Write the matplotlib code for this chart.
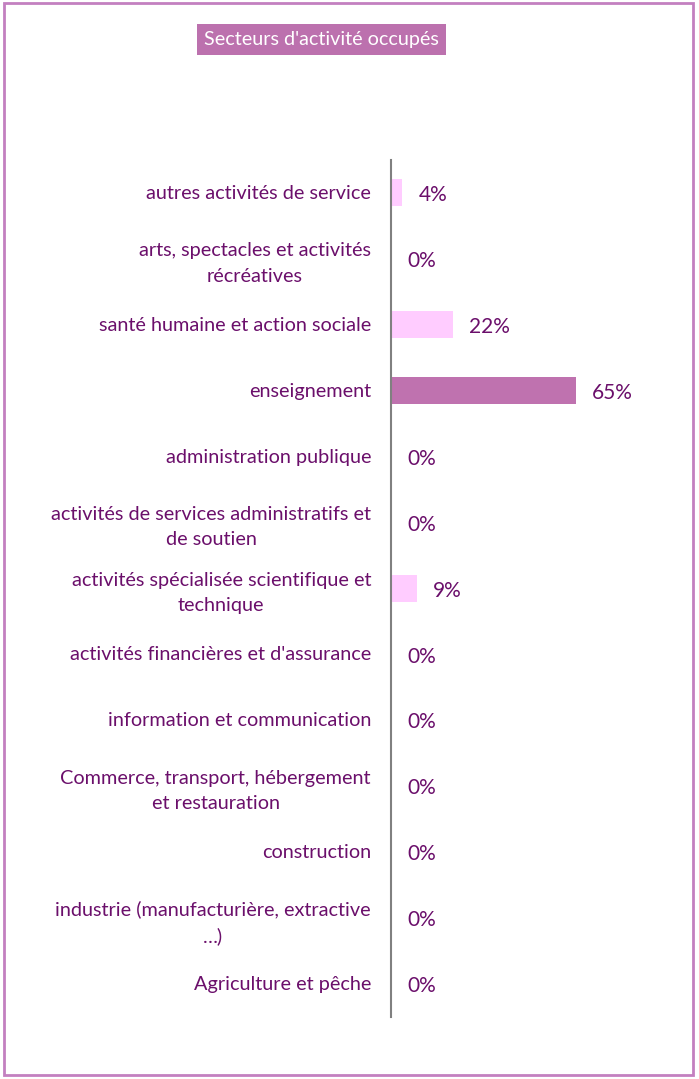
import matplotlib
matplotlib.use("Agg")
import matplotlib.pyplot as plt
from matplotlib.patches import Rectangle
import matplotlib.transforms as mtransforms

plt.rcParams['font.family'] = ['Lato', 'DejaVu Sans']

categories = [
    "autres activités de service",
    "arts, spectacles et activités\nrécréatives",
    "santé humaine et action sociale",
    "enseignement",
    "administration publique",
    "activités de services administratifs et\nde soutien",
    "activités spécialisée scientifique et\ntechnique",
    "activités financières et d'assurance",
    "information et communication",
    "Commerce, transport, hébergement\net restauration",
    "construction",
    "industrie (manufacturière, extractive\n…)",
    "Agriculture et pêche",
]
values = [4, 0, 22, 65, 0, 0, 9, 0, 0, 0, 0, 0, 0]
value_labels = ["4%", "0%", "22%", "65%", "0%", "0%", "9%", "0%", "0%", "0%", "0%", "0%", "0%"]
title = "Secteurs d'activité occupés"

W, H = 699, 1079
fig = plt.figure(figsize=(W / 100, H / 100), dpi=100)
fig.patch.set_facecolor("white")

text_color = "#6B0F6B"
light = "#FFCCFF"
dark = "#BF72AF"

ax = fig.add_axes([391 / W, (H - 1017) / H, 284 / W, 857 / H])
ypos = list(range(len(categories)))
colors = [dark if v == max(values) else light for v in values]
ax.barh(ypos, values, height=0.41, color=colors)
ax.set_xlim(0, 100)
ax.set_ylim(len(categories) - 0.5, -0.5)
for s in ["top", "right", "bottom"]:
    ax.spines[s].set_visible(False)
ax.spines["left"].set_color("#808080")
ax.spines["left"].set_linewidth(1.5)
ax.set_xticks([])
ax.set_yticks(ypos)
ax.set_yticklabels(categories, ha="center", color=text_color, fontsize=14.3, linespacing=1.6)
ax.tick_params(axis="y", length=0, pad=0)
for lab in ax.get_yticklabels():
    lab.set_multialignment("center")

fig.canvas.draw()
renderer = fig.canvas.get_renderer()
for lab in ax.get_yticklabels():
    bb = lab.get_window_extent(renderer)
    w = bb.width
    off = mtransforms.ScaledTranslation(-(w / 2 + 20) / 100, 0.01, fig.dpi_scale_trans)
    lab.set_transform(lab.get_transform() + off)

for y, v, t in zip(ypos, values, value_labels):
    ax.annotate(t, (v, y), xytext=(11.5, -1.5), textcoords="offset points",
                va="center", ha="left", color=text_color, fontsize=15)

# title box
fig.patches.append(Rectangle((197 / W, (H - 55) / H), 249 / W, 31 / H,
                             transform=fig.transFigure, facecolor="#BC71AE", edgecolor="none"))
fig.text(321.5 / W, (H - 39.5) / H, title, color="white", fontsize=14.2,
         ha="center", va="center")

# frame
fig.patches.append(Rectangle((4 / W, (H - 1075) / H), 689 / W, 1072 / H,
                             transform=fig.transFigure, facecolor="none",
                             edgecolor="#C380C0", linewidth=2))

fig.savefig("out.png", dpi=100)
